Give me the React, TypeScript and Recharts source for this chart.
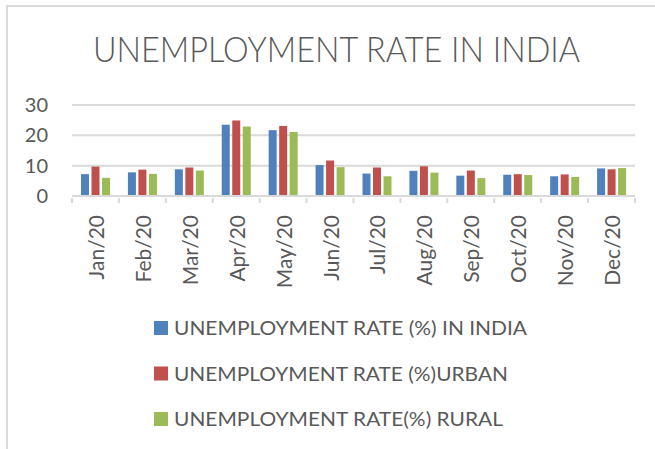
import { BarChart, Bar, XAxis, YAxis, CartesianGrid } from "recharts";

const months = [
  "Jan/20", "Feb/20", "Mar/20", "Apr/20", "May/20", "Jun/20",
  "Jul/20", "Aug/20", "Sep/20", "Oct/20", "Nov/20", "Dec/20",
];
const indiaRate = [7.2, 7.8, 8.8, 23.5, 21.7, 10.2, 7.4, 8.3, 6.7, 7.0, 6.5, 9.1];
const urbanRate = [9.7, 8.7, 9.4, 24.9, 23.1, 11.7, 9.4, 9.8, 8.4, 7.2, 7.1, 8.8];
const ruralRate = [6.0, 7.3, 8.4, 22.9, 21.1, 9.5, 6.5, 7.7, 5.9, 6.9, 6.3, 9.2];
const yTicks = [0, 10, 20, 30];

const seriesKeys = ["india", "urban", "rural"];
const seriesNames = [
  "UNEMPLOYMENT RATE (%) IN INDIA",
  "UNEMPLOYMENT RATE (%)URBAN",
  "UNEMPLOYMENT RATE(%) RURAL",
];
const seriesColors = ["#4F81BD", "#C0504D", "#9BBB59"];
const legendWidths = [353, 334, 329];

const data = months.map((m, i) => ({
  month: m,
  india: indiaRate[i],
  urban: urbanRate[i],
  rural: ruralRate[i],
}));

const FONT = "Lato, 'Open Sans', sans-serif";
const TEXT = "#595959";
const GRID = "#D9D9D9";

function MonthTick(props: any) {
  const { x, y, payload, index } = props;
  const half = payload && payload.offset ? payload.offset : 23.5;
  return (
    <g>
      <line x1={x - half} x2={x - half} y1={y} y2={y + 5} stroke={GRID} strokeWidth={2} />
      {index === months.length - 1 && (
        <line x1={x + half} x2={x + half} y1={y} y2={y + 5} stroke={GRID} strokeWidth={2} />
      )}
      <text
        x={x}
        y={y + 17}
        transform={`rotate(-90, ${x}, ${y + 17})`}
        textAnchor="end"
        dominantBaseline="central"
        fill={TEXT}
        fontSize={21}
        fontFamily={FONT}
      >
        {payload.value}
      </text>
    </g>
  );
}

export default function App() {
  return (
    <div style={{ position: "fixed", left: 0, top: 0, width: 655, height: 449, background: "#fff", overflow: "hidden" }}>
      <div
        style={{
          position: "absolute",
          left: 6,
          top: 5,
          width: 700,
          height: 500,
          borderLeft: "2px solid #D9D9D9",
          borderTop: "2px solid #D9D9D9",
        }}
      />
      <BarChart
        width={655}
        height={449}
        data={data}
        margin={{ top: 105, right: 20, left: 8, bottom: 153 }}
        barSize={8}
        barGap={2.5}
      >
        <CartesianGrid vertical={false} stroke={GRID} strokeWidth={2} />
        <XAxis
          dataKey="month"
          interval={0}
          height={100}
          tickSize={0}
          tickLine={false}
          axisLine={{ stroke: GRID, strokeWidth: 2 }}
          tick={<MonthTick />}
        />
        <YAxis
          domain={[0, 30]}
          ticks={yTicks}
          width={64}
          axisLine={false}
          tickLine={false}
          tickSize={0}
          tickMargin={24}
          tick={{ fill: TEXT, fontSize: 20, fontFamily: FONT }}
        />
        {seriesKeys.map((k, i) => (
          <Bar key={k} dataKey={k} name={seriesNames[i]} fill={seriesColors[i]} isAnimationActive={false} />
        ))}
      </BarChart>
      <svg
        width={655}
        height={449}
        style={{ position: "absolute", left: 0, top: 0, pointerEvents: "none" }}
      >
        <text
          x={93}
          y={62}
          fontSize={36}
          fontWeight={300}
          fontFamily={FONT}
          fill={TEXT}
          textLength={487}
          lengthAdjust="spacingAndGlyphs"
        >
          UNEMPLOYMENT RATE IN INDIA
        </text>
        {seriesNames.map((name, i) => (
          <g key={name}>
            <rect x={154} y={321 + i * 45.5} width={14} height={14} fill={seriesColors[i]} />
            <text
              x={174}
              y={335 + i * 45.5}
              fontSize={20}
              fontFamily={FONT}
              fill={TEXT}
              textLength={legendWidths[i]}
              lengthAdjust="spacingAndGlyphs"
            >
              {name}
            </text>
          </g>
        ))}
      </svg>
    </div>
  );
}
